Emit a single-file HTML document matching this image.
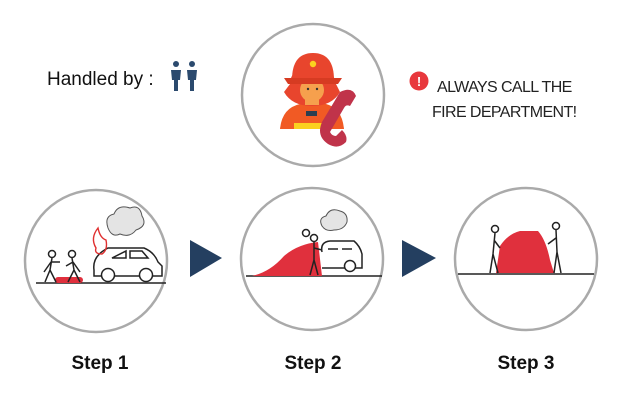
<!DOCTYPE html>
<html><head><meta charset="utf-8"><style>
body{margin:0;width:632px;height:411px;background:#fff;overflow:hidden}
svg{display:block}
text{font-family:"Liberation Sans",sans-serif}
</style></head><body>
<svg width="632" height="411" viewBox="0 0 632 411">
<!-- top circle -->
<circle cx="313" cy="95" r="71" fill="#fff" stroke="#aaa" stroke-width="2.5"/>
<!-- firefighter -->
<path d="M280 129 Q282 108 300 104 L326 104 Q342 108 344 129 Z" fill="#f15a24"/>
<rect x="294" y="123" width="36" height="6" fill="#fbd11f"/>
<rect x="306" y="111" width="11" height="5" fill="#2c3e50"/>
<path d="M290 84 Q290 68 312 68 Q334 68 336 84 L340 92 Q332 106 312 106 Q292 106 284 92 Z" fill="#e8452d"/>
<circle cx="312" cy="90" r="12" fill="#f6a04d"/>
<rect x="305" y="99" width="14" height="6" fill="#f6a04d"/>
<path d="M292 80 Q292 53 313 53 Q334 53 334 80 Z" fill="#e8452d"/>
<path d="M284 78 L342 78 L338 84 L288 84 Z" fill="#d63b22"/>
<circle cx="313" cy="64" r="3.2" fill="#fbd11f"/>
<circle cx="308" cy="89" r="1.2" fill="#333"/><circle cx="317" cy="89" r="1.2" fill="#333"/>
<path d="M340 92 Q352 86 356 96 L350 106 Q346 104 344 108 L330 132 Q332 136 336 136 L342 130 Q348 136 346 142 Q338 150 328 144 Q316 136 322 122 Z" fill="#c0334a"/>
<!-- handled by -->
<text x="47" y="85" font-size="19" fill="#111">Handled by :</text>
<g fill="#2b4a6e">
<circle cx="176" cy="64" r="3"/><path d="M171 70 L181 70 L180 80 L178 80 L178 91 L174 91 L174 80 L172 80 Z"/>
<circle cx="192" cy="64" r="3"/><path d="M187 70 L197 70 L196 80 L194 80 L194 91 L190 91 L190 80 L188 80 Z"/>
</g>
<!-- warning -->
<circle cx="419" cy="81" r="9.5" fill="#e8383d"/>
<text x="419" y="86" font-size="13" font-weight="bold" fill="#fff" text-anchor="middle">!</text>
<text x="437" y="92" font-size="16" fill="#222" letter-spacing="-0.6">ALWAYS CALL THE</text>
<text x="432" y="117" font-size="16" fill="#222" letter-spacing="-0.6">FIRE DEPARTMENT!</text>
<!-- step circles -->
<circle cx="96" cy="261" r="71" fill="#fff" stroke="#aaa" stroke-width="2.5"/>
<circle cx="312" cy="259" r="71" fill="#fff" stroke="#aaa" stroke-width="2.5"/>
<circle cx="526" cy="259" r="71" fill="#fff" stroke="#aaa" stroke-width="2.5"/>
<!-- arrows -->
<polygon points="190,240 222,258 190,277" fill="#243f60"/>
<polygon points="402,240 436,258 402,277" fill="#243f60"/>
<!-- step1 scene -->
<line x1="36" y1="283" x2="166" y2="283" stroke="#222" stroke-width="1.5"/>
<rect x="55" y="277" width="28" height="6" rx="3" fill="#e0303d"/>
<g fill="none" stroke="#222" stroke-width="1.5">
<circle cx="52" cy="254" r="3.5"/><path d="M52 258 L50 270 L45 282 M50 270 L56 282 M51 262 L44 272 M51 262 L60 262"/>
<circle cx="72" cy="254" r="3.5"/><path d="M72 258 L74 270 L68 282 M74 270 L80 282 M73 262 L66 266 M73 262 L80 272"/>
<path d="M94 270 Q92 256 108 248 L144 248 Q154 252 158 262 L162 266 L162 276 L94 276 Z"/>
<path d="M112 258 L126 251 L126 258 Z M130 251 L142 251 L148 258 L130 258 Z"/>
<circle cx="108" cy="275" r="6.5" fill="#fff"/><circle cx="146" cy="275" r="6.5" fill="#fff"/>
</g>
<path d="M96 248 Q90 238 98 228 Q100 238 106 240 Q108 250 102 254 Q94 254 96 248 Z" fill="none" stroke="#e03030" stroke-width="1.4"/>
<path d="M108 228 Q104 216 114 214 Q118 204 130 208 Q140 204 142 216 Q148 226 136 230 Q130 238 120 234 Q112 238 108 228 Z" fill="#e4e4e4" stroke="#555" stroke-width="1"/>
<!-- step2 scene -->
<line x1="246" y1="276" x2="382" y2="276" stroke="#222" stroke-width="1.5"/>
<path d="M252 276 Q270 272 284 256 Q298 244 318 242 L322 276 Z" fill="#e0303d"/>
<g fill="none" stroke="#222" stroke-width="1.5">
<path d="M322 252 Q320 242 330 241 L354 241 Q360 246 362 254 L362 268 L322 268"/>
<path d="M328 249 L338 249 M342 249 L352 249"/>
<circle cx="350" cy="266" r="5.5" fill="#fff"/>
<circle cx="306" cy="233" r="3.5" fill="#fff"/>
<circle cx="314" cy="238" r="3.5" fill="#fff"/><path d="M314 242 L314 260 L310 275 M314 260 L318 275 M314 248 L322 250"/>
</g>
<path d="M322 226 Q318 218 326 216 Q330 207 340 211 Q348 213 347 222 Q344 230 334 230 Q326 232 322 226 Z" fill="#e4e4e4" stroke="#555" stroke-width="1"/>
<!-- step3 scene -->
<line x1="458" y1="274" x2="594" y2="274" stroke="#222" stroke-width="1.5"/>
<path d="M496 273 L500 246 Q508 234 520 231 L538 231 Q546 240 550 260 L554 273 Z" fill="#e0303d"/>
<g fill="none" stroke="#222" stroke-width="1.5">
<circle cx="495" cy="229" r="3.5"/><path d="M495 233 L493 254 L490 273 M493 254 L498 273 M494 240 L500 248"/>
<circle cx="556" cy="226" r="3.5"/><path d="M556 230 L557 252 L554 273 M557 252 L561 273 M556 238 L548 244"/>
</g>
<!-- labels -->
<text x="100" y="369" font-size="19" font-weight="bold" fill="#111" text-anchor="middle">Step 1</text>
<text x="313" y="369" font-size="19" font-weight="bold" fill="#111" text-anchor="middle">Step 2</text>
<text x="526" y="369" font-size="19" font-weight="bold" fill="#111" text-anchor="middle">Step 3</text>
</svg>
</body></html>
